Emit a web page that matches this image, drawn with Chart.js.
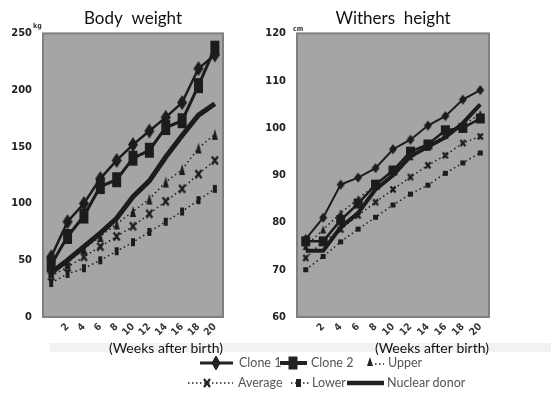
<!DOCTYPE html>
<html><head><meta charset="utf-8">
<script src="https://cdn.jsdelivr.net/npm/chart.js@4.4.1/dist/chart.umd.min.js"></script>
<style>
html,body{margin:0;padding:0;background:#fff;width:551px;height:398px;overflow:hidden;position:relative;font-family:Lato,'Open Sans',sans-serif;}
canvas{position:absolute;top:0;}
#c1{left:0;} #c2{left:262px;}
.band{position:absolute;background:#f2f2f2;}
.lg{position:absolute;font-size:12.5px;color:#555;line-height:16px;white-space:nowrap;font-family:Lato,sans-serif;}
#sym{position:absolute;left:0;top:0;}
</style></head><body>
<div class="band" style="left:50px;top:343px;width:501px;height:9px"></div>
<canvas id="c1" width="270" height="360"></canvas>
<canvas id="c2" width="289" height="360"></canvas>
<svg id="sym" width="551" height="398">
  <g stroke="#222" fill="#222">
    <line x1="200" y1="363" x2="233" y2="363" stroke-width="3"/>
    <polygon points="216,356 220,363 216,370 212,363"/>
    <line x1="280" y1="363" x2="307" y2="363" stroke-width="4"/>
    <rect x="289" y="357" width="8" height="12"/>
    <polygon points="370,357 373,366 367,366" stroke="none"/>
    <line x1="375" y1="364" x2="384" y2="364" stroke-width="1.5" stroke-dasharray="1.5,2.5"/>
    <line x1="188" y1="383" x2="233" y2="383" stroke-width="1.5" stroke-dasharray="1.5,2.5"/>
    <line x1="204" y1="379" x2="210" y2="387" stroke-width="2.2"/>
    <line x1="210" y1="379" x2="204" y2="387" stroke-width="2.2"/>
    <line x1="291" y1="383" x2="309" y2="383" stroke-width="1.5" stroke-dasharray="1.5,2.5"/>
    <rect x="296" y="379" width="5" height="8" stroke="none"/>
    <line x1="347" y1="383" x2="384" y2="383" stroke-width="4.5"/>
  </g>
</svg>
<span class="lg" style="left:239px;top:355px">Clone 1</span>
<span class="lg" style="left:311px;top:355px">Clone 2</span>
<span class="lg" style="left:388px;top:355px">Upper</span>
<span class="lg" style="left:238px;top:375px">Average</span>
<span class="lg" style="left:312px;top:375px">Lower</span>
<span class="lg" style="left:387px;top:375px">Nuclear donor</span>
<script>
// ---- data ----
const weeks = [0, 2, 4, 6, 8, 10, 12, 14, 16, 18, 20];
const seriesNames = ['Clone 1', 'Clone 2', 'Upper', 'Average', 'Lower', 'Nuclear donor'];

const bwTicks = [0, 50, 100, 150, 200, 250];
const bwClone1 = [53, 84, 100, 122, 138, 152, 164, 176, 189, 219, 231];
const bwClone2 = [46, 71, 89, 115, 121, 140, 147, 167, 173, 204, 237];
const bwUpper = [40, 48, 60, 71, 82, 93, 104, 119, 130, 149, 161];
const bwAverage = [36, 44, 53, 62, 71, 80, 91, 102, 113, 126, 138];
const bwLower = [30, 38, 43, 50, 58, 66, 75, 84, 93, 103, 113];
const bwDonor = [39, 50, 62, 74, 87, 106, 120, 141, 160, 178, 188];

const whTicks = [60, 70, 80, 90, 100, 110, 120];
const whClone1 = [76.5, 81, 88, 89.5, 91.5, 95.5, 97.5, 100.5, 102.5, 106, 108];
const whClone2 = [76, 76, 80.5, 84, 88, 91, 95, 96.5, 99.5, 100, 102];
const whUpper = [75, 78.5, 82, 85, 88, 91, 94, 96, 98.5, 100.5, 103];
const whAverage = [72.5, 76, 78.5, 81.5, 84.3, 87, 89.6, 92.1, 94.2, 96.8, 98.2];
const whLower = [70, 72.8, 75.9, 78.6, 81.1, 83.7, 86, 87.9, 90.4, 92.6, 94.7];
const whDonor = [74, 74, 79, 82, 87, 90, 94, 96, 98, 101, 105];

// ---- marker images ----
const INK = '#1c1c1c';
function marker(type, w, h) {
  const c = document.createElement('canvas');
  c.width = w + 2; c.height = h + 2;
  const g = c.getContext('2d');
  g.fillStyle = INK; g.strokeStyle = INK;
  const cx = c.width / 2, cy = c.height / 2;
  if (type === 'diamond') {
    g.beginPath(); g.moveTo(cx, 1); g.lineTo(cx + w / 2, cy); g.lineTo(cx, h + 1); g.lineTo(cx - w / 2, cy); g.closePath(); g.fill();
  } else if (type === 'rect') {
    g.fillRect(1, 1, w, h);
  } else if (type === 'tri') {
    g.beginPath(); g.moveTo(cx, 1); g.lineTo(w + 1, h + 1); g.lineTo(1, h + 1); g.closePath(); g.fill();
  } else if (type === 'x') {
    g.lineWidth = 2.2;
    g.beginPath(); g.moveTo(1.5, 1.5); g.lineTo(w + 0.5, h + 0.5); g.moveTo(w + 0.5, 1.5); g.lineTo(1.5, h + 0.5); g.stroke();
  }
  return c;
}

const bgPlugin = {
  id: 'plotbg',
  beforeDraw(chart, args, opts) {
    const a = chart.chartArea, ctx = chart.ctx;
    ctx.save();
    ctx.fillStyle = '#a5a5a5';
    ctx.fillRect(a.left, a.top, a.right - a.left, a.bottom - a.top);
    ctx.strokeStyle = '#808080'; ctx.lineWidth = 2;
    ctx.strokeRect(a.left, a.top, a.right - a.left, a.bottom - a.top);
    ctx.restore();
  },
  afterDraw(chart, args, opts) {
    const a = chart.chartArea, ctx = chart.ctx;
    ctx.save();
    ctx.fillStyle = '#333';
    ctx.font = 'bold 7px "Liberation Sans Narrow", "DejaVu Sans Condensed", sans-serif';
    ctx.textBaseline = 'middle'; ctx.textAlign = 'left';
    ctx.fillText(opts.unit, a.left + opts.ux, a.top + opts.uy);
    ctx.restore();
  }
};

const tickFont = {family: '"Liberation Sans Narrow", "DejaVu Sans Condensed", sans-serif', weight: 'bold', size: 11};

function build(id, cfg) {
  const ds = [
    {label: seriesNames[0], data: cfg.c1, borderWidth: cfg.big ? 2.5 : 2, pointStyle: cfg.m.c1},
    {label: seriesNames[1], data: cfg.c2, borderWidth: cfg.big ? 3 : 2.5, pointStyle: cfg.m.c2},
    {label: seriesNames[2], data: cfg.up, borderWidth: 1.5, borderDash: [1.5, 3], pointStyle: cfg.m.up},
    {label: seriesNames[3], data: cfg.av, borderWidth: 1.5, borderDash: [1.5, 3], pointStyle: cfg.m.av},
    {label: seriesNames[4], data: cfg.lo, borderWidth: 1.5, borderDash: [1.5, 3], pointStyle: cfg.m.lo},
    {label: seriesNames[5], data: cfg.dn, borderWidth: cfg.big ? 5 : 4, pointRadius: 0}
  ].map(d => Object.assign({borderColor: INK, backgroundColor: INK, tension: 0, pointRadius: 4, fill: false}, d));
  return new Chart(document.getElementById(id), {
    type: 'line',
    data: {labels: weeks.map(String), datasets: ds},
    plugins: [bgPlugin],
    options: {
      responsive: false, animation: false, events: [],
      layout: {padding: {left: 0, right: cfg.padRight, top: 0, bottom: 0}},
      plugins: {
        legend: {display: false}, tooltip: {enabled: false},
        title: {display: true, text: cfg.title, fullSize: false, color: '#111',
          font: {family: 'Lato, sans-serif', size: 17, weight: 'normal'}, padding: {top: 8, bottom: 5}},
        plotbg: {unit: cfg.unit, ux: cfg.ux, uy: cfg.uy}
      },
      scales: {
        x: {
          type: 'category', offset: true,
          grid: {display: false, drawTicks: false}, border: {display: false},
          ticks: {autoSkip: false, minRotation: 45, maxRotation: 45, padding: 4, color: '#333',
            font: {family: tickFont.family, weight: 'bold', size: 10},
            callback: (v, i) => weeks[i] === 0 ? '' : String(weeks[i])},
          title: {display: true, text: '(Weeks after birth)', align: 'end', color: '#111',
            font: {family: 'Lato, sans-serif', size: 14}, padding: {top: 0, bottom: 3}},
          afterFit: s => { s.height = 43; }
        },
        y: {
          min: cfg.ticks[0], max: cfg.ticks[cfg.ticks.length - 1],
          grid: {display: false, drawTicks: false}, border: {display: false},
          afterBuildTicks: s => { s.ticks = cfg.ticks.map(v => ({value: v})); },
          ticks: {padding: 11, color: '#222', font: tickFont},
          afterFit: s => { s.width = cfg.yw; }
        }
      }
    }
  });
}

build('c1', {
  title: 'Body  weight', unit: 'kg', ux: -10, uy: -7, big: true,
  c1: bwClone1, c2: bwClone2, up: bwUpper, av: bwAverage, lo: bwLower, dn: bwDonor,
  ticks: bwTicks, yw: 43, padRight: 47,
  m: {c1: marker('diamond', 10, 15), c2: marker('rect', 9, 15), up: marker('tri', 6, 11), av: marker('x', 7, 9), lo: marker('rect', 4, 8)}
});
build('c2', {
  title: 'Withers  height', unit: 'cm', ux: -4, uy: -4, big: false,
  c1: whClone1, c2: whClone2, up: whUpper, av: whAverage, lo: whLower, dn: whDonor,
  ticks: whTicks, yw: 35, padRight: 62,
  m: {c1: marker('diamond', 8, 10), c2: marker('rect', 9, 10), up: marker('tri', 6, 8), av: marker('x', 6, 7), lo: marker('rect', 5, 5)}
});
</script>
</body></html>
